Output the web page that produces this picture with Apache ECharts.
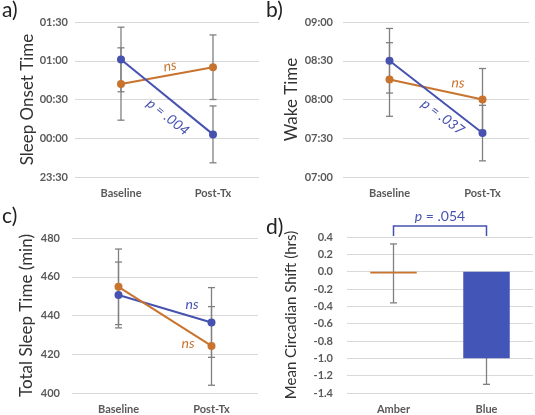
<!DOCTYPE html>
<html>
<head>
<meta charset="utf-8">
<script src="https://cdn.jsdelivr.net/npm/echarts@6/dist/echarts.min.js"></script>
<style>
html,body{margin:0;padding:0;background:#fff;}
#main{width:535px;height:415px;}
</style>
</head>
<body>
<div id="main"></div>
<script>
// categories
var phases = ['Baseline', 'Post-Tx'];
var groups = ['Amber', 'Blue'];

// a) sleep onset, minutes after midnight
var onsetAmber = [42, 55], onsetAmberErr = [28, 25];
var onsetBlue = [61, 3], onsetBlueErr = [25, 22];
// b) wake time, minutes after midnight
var wakeAmber = [495.5, 480], wakeAmberErr = [28.5, 24];
var wakeBlue = [510, 454], wakeBlueErr = [25, 21.5];
// c) total sleep time (min)
var tstAmber = [454.8, 424.3], tstAmberErr = [19.5, 20.3];
var tstBlue = [450.6, 436.4], tstBlueErr = [17, 18];
// d) mean circadian shift (hrs)
var shift = [-0.02, -1.0], shiftErr = [0.34, 0.3];

var AMBER = '#c8742f', BLUE = '#4752b0', BAR_BLUE = '#4356b8', GREY = '#808080';
var FONT = 'Lato';

var myChart = echarts.init(document.getElementById('main'));

function hhmm(v) {
    var m = ((v % 1440) + 1440) % 1440;
    var h = Math.floor(m / 60), mm = m % 60;
    return (h < 10 ? '0' : '') + h + ':' + (mm < 10 ? '0' : '') + mm;
}

function errBars(idx, vals, errs) {
    return {
        type: 'custom',
        xAxisIndex: idx, yAxisIndex: idx,
        z: 1,
        silent: true,
        encode: {x: 0, y: [1, 2]},
        data: vals.map(function (v, i) { return [i, v - errs[i], v + errs[i]]; }),
        renderItem: function (params, api) {
            var lo = api.coord([api.value(0), api.value(1)]);
            var hi = api.coord([api.value(0), api.value(2)]);
            var w = 3.5;
            var st = {stroke: GREY, lineWidth: 1.3};
            return {
                type: 'group',
                children: [
                    {type: 'line', shape: {x1: lo[0], y1: lo[1], x2: hi[0], y2: hi[1]}, style: st},
                    {type: 'line', shape: {x1: lo[0] - w, y1: lo[1], x2: lo[0] + w, y2: lo[1]}, style: st},
                    {type: 'line', shape: {x1: hi[0] - w, y1: hi[1], x2: hi[0] + w, y2: hi[1]}, style: st}
                ]
            };
        }
    };
}

function lineSeries(idx, vals, color) {
    return {
        type: 'line', xAxisIndex: idx, yAxisIndex: idx, z: 3,
        data: vals, symbol: 'circle', symbolSize: 8,
        lineStyle: {color: color, width: 2},
        itemStyle: {color: color},
        animation: false
    };
}

function xAx(idx, cats) {
    return {
        type: 'category', gridIndex: idx, data: cats,
        axisLine: {show: false}, axisTick: {show: false},
        axisLabel: {color: '#595959', fontWeight: 'bold', fontSize: 11, fontFamily: FONT, margin: 11}
    };
}

function yAx(idx, min, max, step, name, gap, fmt, nameSize, labMargin) {
    return {
        type: 'value', gridIndex: idx, min: min, max: max, interval: step,
        name: name, nameLocation: 'middle', nameGap: gap,
        nameTextStyle: {color: '#333', fontSize: nameSize, fontFamily: FONT},
        axisLine: {show: false}, axisTick: {show: false},
        splitLine: {lineStyle: {color: '#d9d9d9', width: 1}},
        axisLabel: {color: '#595959', fontWeight: 'bold', fontSize: 11, fontFamily: FONT,
            margin: labMargin, formatter: fmt}
    };
}

var option = {
    animation: false,
    grid: [
        {left: 75, top: 22, width: 184, height: 155},
        {left: 343, top: 22, width: 186, height: 155},
        {left: 72, top: 238, width: 186, height: 155},
        {left: 347, top: 237, width: 186, height: 156}
    ],
    xAxis: [xAx(0, phases), xAx(1, phases), xAx(2, phases), xAx(3, groups)],
    yAxis: [
        yAx(0, -30, 90, 30, 'Sleep Onset Time', 39, hhmm, 17, 7),
        yAx(1, 420, 540, 30, 'Wake Time', 43, hhmm, 17, 10),
        yAx(2, 400, 480, 20, 'Total Sleep Time (min)', 37, null, 17, 12),
        yAx(3, -1.4, 0.4, 0.2, 'Mean Circadian Shift (hrs)', 48,
            function (v) { return v.toFixed(1); }, 15, 14)
    ],
    series: [
        errBars(0, onsetAmber, onsetAmberErr), errBars(0, onsetBlue, onsetBlueErr),
        lineSeries(0, onsetAmber, AMBER), lineSeries(0, onsetBlue, BLUE),
        errBars(1, wakeAmber, wakeAmberErr), errBars(1, wakeBlue, wakeBlueErr),
        lineSeries(1, wakeAmber, AMBER), lineSeries(1, wakeBlue, BLUE),
        errBars(2, tstAmber, tstAmberErr), errBars(2, tstBlue, tstBlueErr),
        lineSeries(2, tstBlue, BLUE), lineSeries(2, tstAmber, AMBER),
        errBars(3, shift, shiftErr),
        {
            type: 'bar', xAxisIndex: 3, yAxisIndex: 3, z: 2, barWidth: '50%',
            data: [
                {value: shift[0], itemStyle: {color: AMBER}},
                {value: shift[1], itemStyle: {color: BAR_BLUE}}
            ]
        }
    ]
};
myChart.setOption(option);

// annotations
function note(x, y, txt, color, rot) {
    return {
        type: 'text', x: x, y: y, rotation: rot || 0, z: 10,
        style: {text: txt, fill: color, font: 'italic 14px ' + FONT,
            textAlign: 'center', textVerticalAlign: 'middle'}
    };
}
function panelLabel(x, y, txt) {
    return {type: 'text', left: x, top: y, style: {text: txt, fill: '#222', font: '21px ' + FONT}};
}

var xa = myChart.convertToPixel({xAxisIndex: 3}, 'Amber');
var xb = myChart.convertToPixel({xAxisIndex: 3}, 'Blue');
var yTop = 226, yBot = 236;

myChart.setOption({
    graphic: [
        panelLabel(2, 0, 'a)'), panelLabel(266, 0, 'b)'),
        panelLabel(2, 206, 'c)'), panelLabel(266, 217, 'd)'),
        note(170, 66, 'ns', AMBER, 0.15),
        note(168, 117, 'p = .004', BLUE, -0.68),
        note(458, 83, 'ns', AMBER, -0.05),
        note(443, 117, 'p = .037', BLUE, -0.65),
        note(192, 304, 'ns', BLUE, 0),
        note(188, 343, 'ns', AMBER, 0),
        {
            type: 'polyline', z: 10,
            shape: {points: [[xa, yBot], [xa, yTop], [xb, yTop], [xb, yBot]]},
            style: {stroke: BLUE, lineWidth: 1.5, fill: null}
        },
        {
            type: 'text', x: (xa + xb) / 2, y: 216, z: 10,
            style: {
                text: '{i|p} = .054', textAlign: 'center', textVerticalAlign: 'middle',
                fill: BLUE, font: '14px ' + FONT,
                rich: {i: {fontStyle: 'italic', fill: BLUE, fontSize: 14, fontFamily: FONT}}
            }
        }
    ]
});
</script>
</body>
</html>
